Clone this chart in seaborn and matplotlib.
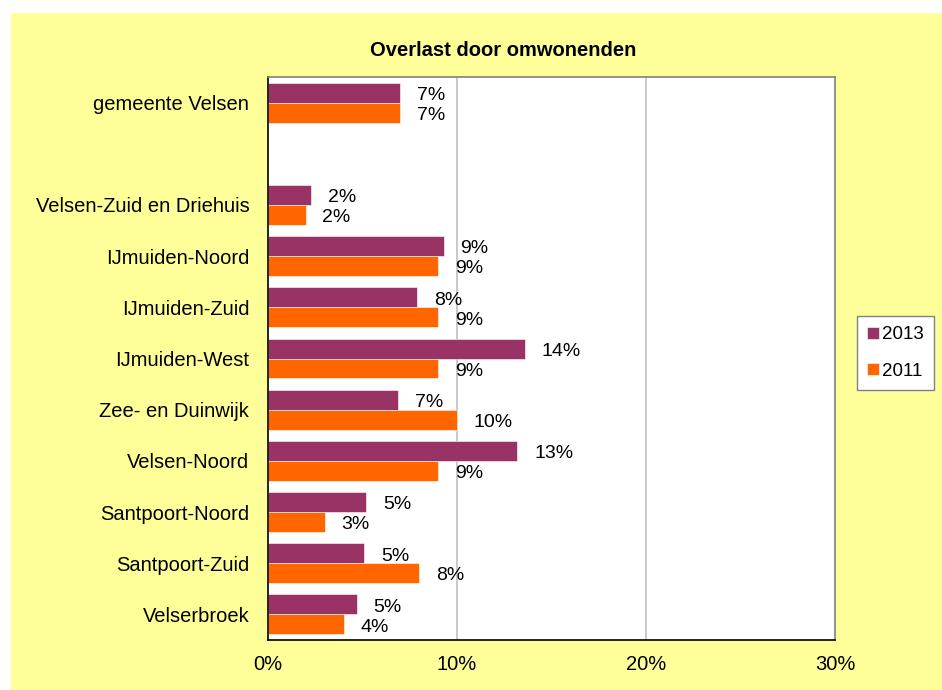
import numpy as np
import pandas as pd
import seaborn as sns
import matplotlib.pyplot as plt
from matplotlib.patches import Rectangle

# data
wijken = ["gemeente Velsen", " ", "Velsen-Zuid en Driehuis", "IJmuiden-Noord",
          "IJmuiden-Zuid", "IJmuiden-West", "Zee- en Duinwijk", "Velsen-Noord",
          "Santpoort-Noord", "Santpoort-Zuid", "Velserbroek"]
waarden_2013 = [7.0, 0.0, 2.3, 9.3, 7.9, 13.6, 6.9, 13.2, 5.2, 5.1, 4.7]
waarden_2011 = [7.0, 0.0, 2.0, 9.0, 9.0, 9.0, 10.0, 9.0, 3.0, 8.0, 4.0]
jaren = ["2013", "2011"]
kleuren = ["#993366", "#FF6600"]
xticks = [0, 10, 20, 30]

df = pd.DataFrame({
    "wijk": wijken * 2,
    "jaar": ["2013"] * len(wijken) + ["2011"] * len(wijken),
    "pct": waarden_2013 + waarden_2011,
})

sns.set_style("white")
plt.rcParams['font.family'] = ['Liberation Sans', 'DejaVu Sans']
plt.rcParams['text.color'] = 'black'
plt.rcParams['xtick.color'] = 'black'
plt.rcParams['ytick.color'] = 'black'

fig = plt.figure(figsize=(9.42, 6.90), dpi=100)
fig.patch.set_facecolor("white")
# yellow chart area like excel
fig.add_artist(Rectangle((11 / 942, 0), 1 - 11 / 942, 1 - 13 / 690,
                         transform=fig.transFigure, facecolor="#FFFF99",
                         edgecolor="none", zorder=-10))

ax = fig.add_axes([268 / 942, 50 / 690, (835 - 268) / 942, (640 - 77) / 690])
ax.set_facecolor("white")

sns.barplot(data=df, x="pct", y="wijk", hue="jaar", order=wijken,
            hue_order=jaren, palette=kleuren, saturation=1, orient="h", ax=ax,
            errorbar=None, width=0.78, edgecolor="white", linewidth=0.4,
            legend=True)

# value labels
for cont, vals in zip(ax.containers, [waarden_2013, waarden_2011]):
    labels = [("" if w == " " else f"{round(v)}%") for w, v in zip(wijken, vals)]
    anns = ax.bar_label(cont, labels=labels, padding=12, fontsize=14, color="black")
    for a in anns:
        a.xyann = (12, -2)

ax.set_xlim(0, 30)
ax.set_ylim(len(wijken) - 0.5, -0.5)
ax.set_xticks(xticks)
ax.set_xticklabels([f"{t}%" for t in xticks], fontsize=14.5)
ax.tick_params(axis="x", length=5, width=1, color="#808080", pad=6, direction="out")
ax.tick_params(axis="y", which="major", length=0, pad=13.5, labelsize=14.5)
ax.set_yticks(np.arange(-0.5, len(wijken) + 0.5, 1), minor=True)
ax.tick_params(axis="y", which="minor", length=5, width=1, color="#808080", direction="out")
ax.set_xlabel("")
ax.set_ylabel("")

ax.grid(False)
for t in xticks[1:3]:
    ax.axvline(t, color="#C0C0C0", lw=1.2, zorder=0)

for side in ["left", "bottom"]:
    ax.spines[side].set_color("black")
    ax.spines[side].set_linewidth(1.2)
for side in ["top", "right"]:
    ax.spines[side].set_color("#808080")
    ax.spines[side].set_linewidth(1.2)

fig.text(503 / 942, 1 - 50 / 690, "Overlast door omwonenden", ha="center",
         va="center", fontsize=14.5, fontweight="bold")

handles, labs = ax.get_legend_handles_labels()
ax.legend(handles, labs, loc="upper left", bbox_to_anchor=(857 / 942, 1 - 316 / 690),
          bbox_transform=fig.transFigure, fontsize=13.5, frameon=True, fancybox=False,
          edgecolor="#808080", handlelength=0.6, handleheight=0.6, handletextpad=0.2,
          labelspacing=1.05, borderpad=0.55, borderaxespad=0, framealpha=1)

plt.savefig("out.png", dpi=100)
